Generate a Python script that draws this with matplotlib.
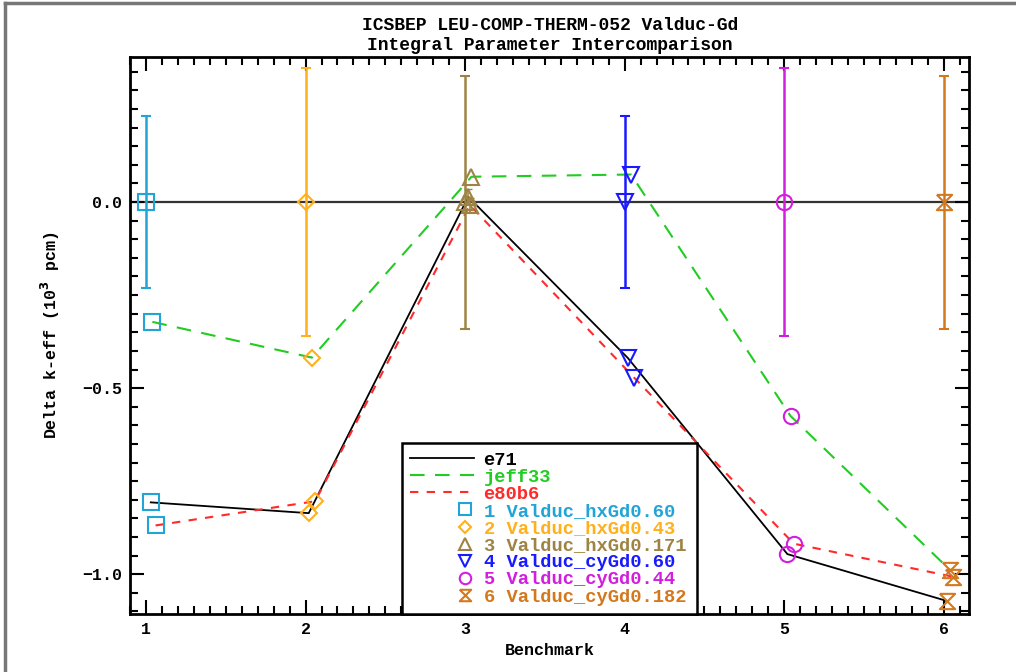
import numpy as np
import matplotlib
matplotlib.use("Agg")
import matplotlib.pyplot as plt
from matplotlib.lines import Line2D
from matplotlib.path import Path
from matplotlib.legend_handler import HandlerLine2D

# data
bench = [1, 2, 3, 4, 5, 6]
names = ["Valduc_hxGd0.60", "Valduc_hxGd0.43", "Valduc_hxGd0.171",
         "Valduc_cyGd0.60", "Valduc_cyGd0.44", "Valduc_cyGd0.182"]
exp_unc = [0.23, 0.36, 0.34, 0.23, 0.36, 0.34]

e71_x = [1.03, 2.02, 3.02, 4.02, 5.02, 6.02]
e71 = [-0.807, -0.836, 0.014, -0.419, -0.946, -1.072]
jeff33_x = [1.04, 2.04, 3.04, 4.04, 5.04, 6.04]
jeff33 = [-0.322, -0.418, 0.068, 0.074, -0.575, -0.989]
e80b6_x = [1.06, 2.06, 3.03, 4.06, 5.06, 6.06]
e80b6 = [-0.869, -0.804, -0.008, -0.472, -0.918, -1.007]
calc_unc3 = 0.02   # small calc. uncertainty visible at benchmark 3

bench_colors = ["#22a4d6", "#ffb01a", "#9e8444", "#1a1aff", "#d21ede", "#d4781e"]
hourglass = Path([(-1, 1), (1, 1), (-1, -1), (1, -1), (-1, 1)])
bench_markers = ["s", "D", "^", "v", "o", hourglass]
bench_msize = [11, 8, 11, 11, 11, 11]

FONT = "Liberation Mono"
plt.rcParams["font.family"] = FONT
plt.rcParams["font.weight"] = "bold"

fig = plt.figure(figsize=(10.16, 6.72), dpi=100)
ax = fig.add_axes([0.128, 0.0863, 0.826, 0.829])

# zero reference line
ax.axhline(0, color="#333333", lw=1.6, zorder=1)

# benchmark (experimental) values with uncertainties
for i, b in enumerate(bench):
    ax.errorbar(b, 0, yerr=exp_unc[i], color=bench_colors[i], lw=1.8,
                capsize=3.5, capthick=1.5, marker=bench_markers[i],
                ms=bench_msize[i], mfc="none", mec=bench_colors[i], mew=1.5,
                zorder=3)

# calculated values
ax.plot(e71_x, e71, color="black", lw=1.3, zorder=2)
ax.plot(jeff33_x, jeff33, color="#22cc22", lw=1.5, ls=(0, (7, 5)), zorder=2)
ax.plot(e80b6_x, e80b6, color="#ff2a2a", lw=1.5, ls=(0, (4, 4)), zorder=2)
for xs, ys in [(e71_x, e71), (jeff33_x, jeff33), (e80b6_x, e80b6)]:
    for i in range(len(bench)):
        ax.plot(xs[i], ys[i], ls="none", marker=bench_markers[i],
                ms=bench_msize[i], mfc="none", mec=bench_colors[i], mew=1.5,
                zorder=4)
for xs, ys in [(e71_x, e71), (e80b6_x, e80b6)]:
    ax.errorbar(xs[2], ys[2], yerr=calc_unc3, color=bench_colors[2], lw=1.2,
                capsize=3, zorder=4)

ax.set_xlim(0.9, 6.16)
ax.set_ylim(-1.107, 0.39)
ax.set_xticks(bench)
ax.set_xticks(np.arange(0.9, 6.16, 0.1), minor=True)
ax.set_yticks([-1.0, -0.5, 0.0])
ax.set_yticks(np.arange(-1.1, 0.39, 0.05), minor=True)
ax.set_yticklabels(["\u22121.0", "\u22120.5", "0.0"])
ax.tick_params(which="both", direction="in", top=True, right=True,
               width=1.5, labelsize=12, pad=6)
ax.tick_params(which="major", length=10)
ax.tick_params(which="minor", length=6)
for s in ax.spines.values():
    s.set_linewidth(2)

ax.set_xlabel("Benchmark", fontsize=12, fontweight="bold", labelpad=4)
ax.set_ylabel("Delta k-eff (10$^\\mathbf{3}$ pcm)", fontsize=12,
              fontweight="bold", labelpad=14)
ax.set_title("ICSBEP LEU-COMP-THERM-052 Valduc-Gd\nIntegral Parameter Intercomparison",
             fontsize=13, fontweight="bold", linespacing=1.25, pad=5)


class RightMarker(HandlerLine2D):
    def create_artists(self, legend, orig_handle, xdescent, ydescent, width,
                       height, fontsize, trans):
        arts = super().create_artists(legend, orig_handle, xdescent, ydescent,
                                      width, height, fontsize, trans)
        if orig_handle.get_linestyle() in ("None", "none", ""):
            for a in arts:
                a.set_xdata(np.full_like(np.asarray(a.get_xdata(), float),
                                         width - 0.5 * fontsize))
        return arts


handles = [Line2D([], [], color="black", lw=1.3),
           Line2D([], [], color="#22cc22", lw=1.5, ls=(0, (7, 5))),
           Line2D([], [], color="#ff2a2a", lw=1.5, ls=(0, (4, 4)))]
labels = ["e71", "jeff33", "e80b6"]
text_colors = ["black", "#22cc22", "#ff2a2a"]
for i, b in enumerate(bench):
    handles.append(Line2D([], [], ls="None", marker=bench_markers[i],
                          ms=bench_msize[i] * 0.75, mfc="none",
                          mec=bench_colors[i], mew=1.5))
    labels.append(f"{b} {names[i]}")
    text_colors.append(bench_colors[i])

leg = ax.legend(handles, labels, loc="lower left",
                bbox_to_anchor=(0.324, 0.0, 0.352, 0.293), mode="expand",
                handlelength=3.4, handletextpad=0.5, labelspacing=0.0,
                borderaxespad=0, borderpad=0.45, fancybox=False, framealpha=1,
                edgecolor="black", prop={"family": FONT, "weight": "bold",
                                         "size": 13.5},
                handler_map={Line2D: RightMarker()})
leg.get_frame().set_linewidth(1.8)
for t, c in zip(leg.get_texts(), text_colors):
    t.set_color(c)

# outer frame lines (top and left) like the reference
fig.add_artist(Line2D([5 / 1016, 1], [1 - 3 / 672, 1 - 3 / 672],
                      transform=fig.transFigure, color="#777777", lw=2.5))
fig.add_artist(Line2D([5 / 1016, 5 / 1016], [0, 1 - 3 / 672],
                      transform=fig.transFigure, color="#777777", lw=2.5))

fig.savefig("out.png", dpi=100)
